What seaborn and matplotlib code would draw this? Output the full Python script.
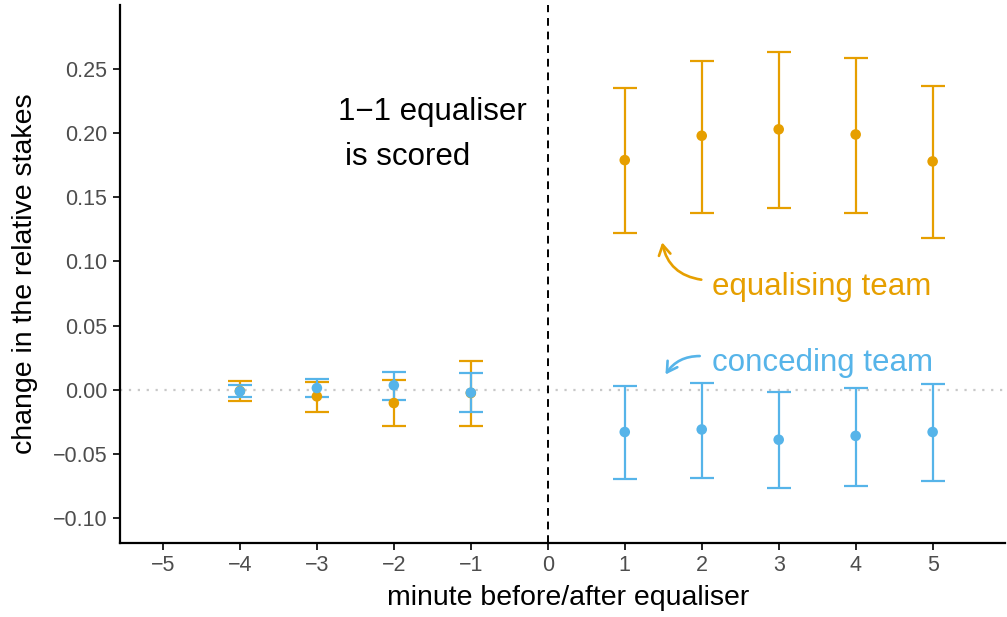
import numpy as np
import pandas as pd
import matplotlib
matplotlib.use("Agg")
import matplotlib.pyplot as plt
import seaborn as sns

minutes_before = [-4, -3, -2, -1]
minutes_after = [1, 2, 3, 4, 5]

eq_before_mean = [-0.001, -0.0052, -0.0104, -0.0026]
eq_before_lo = [-0.0086, -0.0174, -0.028, -0.028]
eq_before_hi = [0.007, 0.006, 0.0073, 0.0227]

co_before_mean = [-0.0013, 0.0013, 0.0034, -0.0023]
co_before_lo = [-0.006, -0.006, -0.0078, -0.0172]
co_before_hi = [0.0034, 0.0086, 0.014, 0.0133]

eq_after_mean = [0.179, 0.198, 0.203, 0.199, 0.178]
eq_after_lo = [0.122, 0.1375, 0.142, 0.138, 0.118]
eq_after_hi = [0.235, 0.256, 0.263, 0.2586, 0.237]

co_after_mean = [-0.033, -0.031, -0.039, -0.036, -0.033]
co_after_lo = [-0.0695, -0.069, -0.0766, -0.075, -0.071]
co_after_hi = [0.003, 0.0055, -0.0016, 0.0016, 0.0047]

x_ticks = [-5, -4, -3, -2, -1, 0, 1, 2, 3, 4, 5]
y_ticks = [-0.10, -0.05, 0.00, 0.05, 0.10, 0.15, 0.20, 0.25]

ORANGE = "#E69F00"
BLUE = "#56B4E9"

minutes = minutes_before + minutes_after
df = pd.DataFrame({
    "minute": minutes * 2,
    "team": ["equalising team"] * len(minutes) + ["conceding team"] * len(minutes),
    "mean": eq_before_mean + eq_after_mean + co_before_mean + co_after_mean,
    "lo": eq_before_lo + eq_after_lo + co_before_lo + co_after_lo,
    "hi": eq_before_hi + eq_after_hi + co_before_hi + co_after_hi,
})

sns.set_theme(style="ticks")
plt.rcParams["font.family"] = ["Liberation Sans", "DejaVu Sans"]
plt.rcParams["text.color"] = "black"

fig = plt.figure(figsize=(10.07, 6.17), dpi=100)
ax = fig.add_axes([0.119, 0.12, 0.879, 0.872])

ax.axhline(0, color="#c8c8c8", ls=(0, (1, 3)), lw=1.6, zorder=0)
ax.axvline(0, color="black", ls=(0, (4, 3)), lw=1.4, zorder=0)

palette = {"equalising team": ORANGE, "conceding team": BLUE}
for team in ["equalising team", "conceding team"]:
    d = df[df.team == team]
    ax.errorbar(d["minute"], d["mean"],
                yerr=[d["mean"] - d["lo"], d["hi"] - d["mean"]],
                fmt="none", ecolor=palette[team], elinewidth=1.6,
                capsize=8.6, capthick=1.6, zorder=2)
    sns.scatterplot(data=d, x="minute", y="mean", color=palette[team],
                    s=58, edgecolor="none", ax=ax, zorder=3, legend=False)

ax.set_xlim(-5.56, 5.94)
ax.set_ylim(-0.1195, 0.30)
ax.set_xticks(x_ticks)
ax.set_xticklabels([f"{t}".replace("-", "\u2212") for t in x_ticks])
ax.set_yticks(y_ticks)
ax.set_yticklabels([f"{t:.2f}".replace("-", "\u2212") for t in y_ticks])
ax.tick_params(axis="both", labelsize=15.5, colors="black", labelcolor="#4d4d4d",
               width=1.2, length=5, pad=4)
for s in ["left", "bottom"]:
    ax.spines[s].set_linewidth(1.6)
    ax.spines[s].set_color("black")
sns.despine(ax=ax)

ax.set_xlabel("minute before/after equaliser", fontsize=20.5, color="black")
ax.set_ylabel("change in the relative stakes", fontsize=20.5, color="black")
ax.xaxis.set_label_coords(0.507, -0.078)
ax.yaxis.set_label_coords(-0.093, 0.5)

ax.text(-2.73, 0.210, "1\u22121 equaliser", fontsize=22.5, color="black",
        ha="left", va="baseline")
ax.text(-2.64, 0.175, "is scored", fontsize=22.5, color="black",
        ha="left", va="baseline")

ax.text(2.13, 0.080, "equalising team", fontsize=22.5, color=ORANGE, ha="left", va="center")
ax.text(2.13, 0.021, "conceding team", fontsize=22.5, color=BLUE, ha="left", va="center")

ax.annotate("", xy=(1.48, 0.117), xytext=(2.03, 0.0855),
            arrowprops=dict(arrowstyle="->,head_length=0.6,head_width=0.35", color=ORANGE,
                            lw=1.9, connectionstyle="arc3,rad=-0.38"))
ax.annotate("", xy=(1.51, 0.0100), xytext=(2.01, 0.0262),
            arrowprops=dict(arrowstyle="->,head_length=0.6,head_width=0.35", color=BLUE,
                            lw=1.9, connectionstyle="arc3,rad=0.3"))

fig.savefig("out.png", dpi=100)
